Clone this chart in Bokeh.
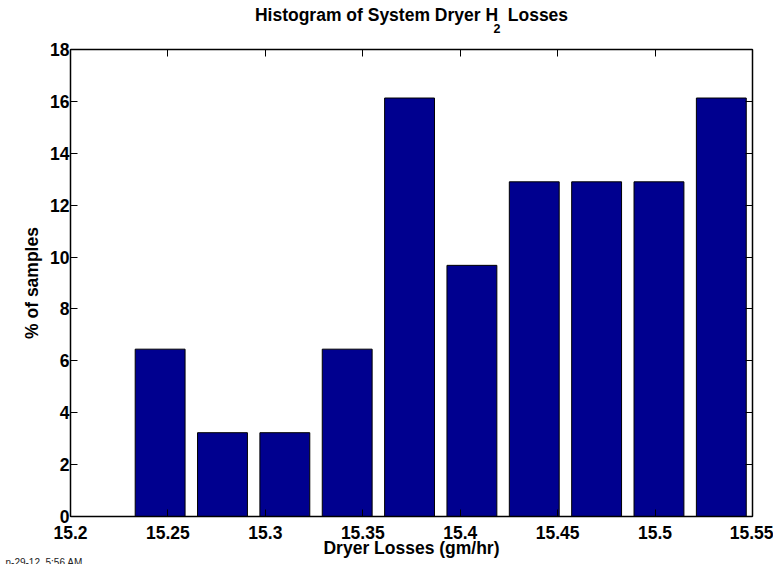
from bokeh.plotting import figure
from bokeh.models import Range1d, FixedTicker, LinearAxis, Title, CustomJSTickFormatter
from bokeh.embed import file_html
from bokeh.resources import INLINE

# ---- data ----
bin_centers = [15.246, 15.278, 15.310, 15.342, 15.374, 15.406, 15.438, 15.470, 15.502, 15.534]
percent_samples = [6.45, 3.23, 3.23, 6.45, 16.13, 9.68, 12.90, 12.90, 12.90, 16.13]
bar_width = 0.0256

x_ticks = [15.2, 15.25, 15.3, 15.35, 15.4, 15.45, 15.5, 15.55]
x_tick_labels = ["15.2", "15.25", "15.3", "15.35", "15.4", "15.45", "15.5", "15.55"]
y_ticks = [0, 2, 4, 6, 8, 10, 12, 14, 16, 18]
y_tick_labels = ["0", "2", "4", "6", "8", "10", "12", "14", "16", "18"]

title_text = "Histogram of System Dryer H\u00a0\u00a0Losses"
title_sub = "2"
x_label = "Dryer Losses (gm/hr)"
y_label = "% of samples"
timestamp = "n-29-12\u00a0\u00a05:56 AM"

FONT = "Liberation Sans"
BAR_COLOR = "#00008F"

p = figure(
    title=None,
    frame_width=682, frame_height=467,
    min_border_left=70, min_border_right=21, min_border_top=49, min_border_bottom=48,
    x_range=Range1d(15.2, 15.55), y_range=Range1d(0, 18),
    output_backend="svg", toolbar_location=None,
)
p.xgrid.visible = False
p.ygrid.visible = False
p.outline_line_color = "black"
p.background_fill_color = "white"
p.border_fill_color = "white"

p.vbar(x=bin_centers, top=percent_samples, bottom=0, width=bar_width,
       fill_color=BAR_COLOR, line_color="black", line_width=1)

def style_axis(ax):
    ax.major_tick_in = 7
    ax.major_tick_out = 0
    ax.minor_tick_in = 0
    ax.minor_tick_out = 0
    ax.axis_line_width = 1.5
    ax.axis_line_color = "black"
    ax.major_tick_line_color = "black"
    ax.major_tick_line_width = 1
    ax.major_label_text_font = FONT
    ax.major_label_text_font_style = "bold"
    ax.major_label_text_color = "black"
    ax.major_label_text_font_size = "17.5px"
    ax.axis_label_text_font = FONT
    ax.axis_label_text_font_style = "bold"
    ax.axis_label_text_font_size = "17.5px"
    ax.axis_label_text_color = "black"

xa = p.xaxis[0]
xa.ticker = FixedTicker(ticks=x_ticks)
xa.major_label_overrides = dict(zip(x_ticks, x_tick_labels))
style_axis(xa)
xa.major_label_standoff = 9
xa.axis_label = x_label
xa.axis_label_standoff = -4

ya = p.yaxis[0]
ya.ticker = FixedTicker(ticks=y_ticks)
ya.major_label_overrides = dict(zip(y_ticks, y_tick_labels))
style_axis(ya)
ya.major_label_standoff = 1
ya.axis_label = y_label
ya.axis_label_standoff = 5

blank = CustomJSTickFormatter(code="return ''")
top_ax = LinearAxis(ticker=FixedTicker(ticks=x_ticks), formatter=blank)
style_axis(top_ax)
top_ax.major_label_standoff = 0
top_ax.major_label_text_font_size = "1px"
p.add_layout(top_ax, "above")

right_ax = LinearAxis(ticker=FixedTicker(ticks=y_ticks), formatter=blank)
style_axis(right_ax)
right_ax.major_label_standoff = 0
right_ax.major_label_text_font_size = "1px"
p.add_layout(right_ax, "right")

# subscript row (nearest the frame), then the main title row above it
p.add_layout(Title(text=title_sub, align="left", offset=423, standoff=33,
                   text_font=FONT, text_font_style="bold", text_font_size="12.5px",
                   text_color="black"), "above")
p.add_layout(Title(text=title_text, align="center", standoff=-38,
                   text_font=FONT, text_font_style="bold", text_font_size="17.5px",
                   text_color="black"), "above")

# print timestamp in the bottom-left corner
p.add_layout(Title(text=timestamp, align="left", offset=-65, standoff=-15,
                   text_font=FONT, text_font_style="normal", text_font_size="10px",
                   text_color="#222222"), "below")

open("out.html", "w").write(file_html(p, INLINE))
